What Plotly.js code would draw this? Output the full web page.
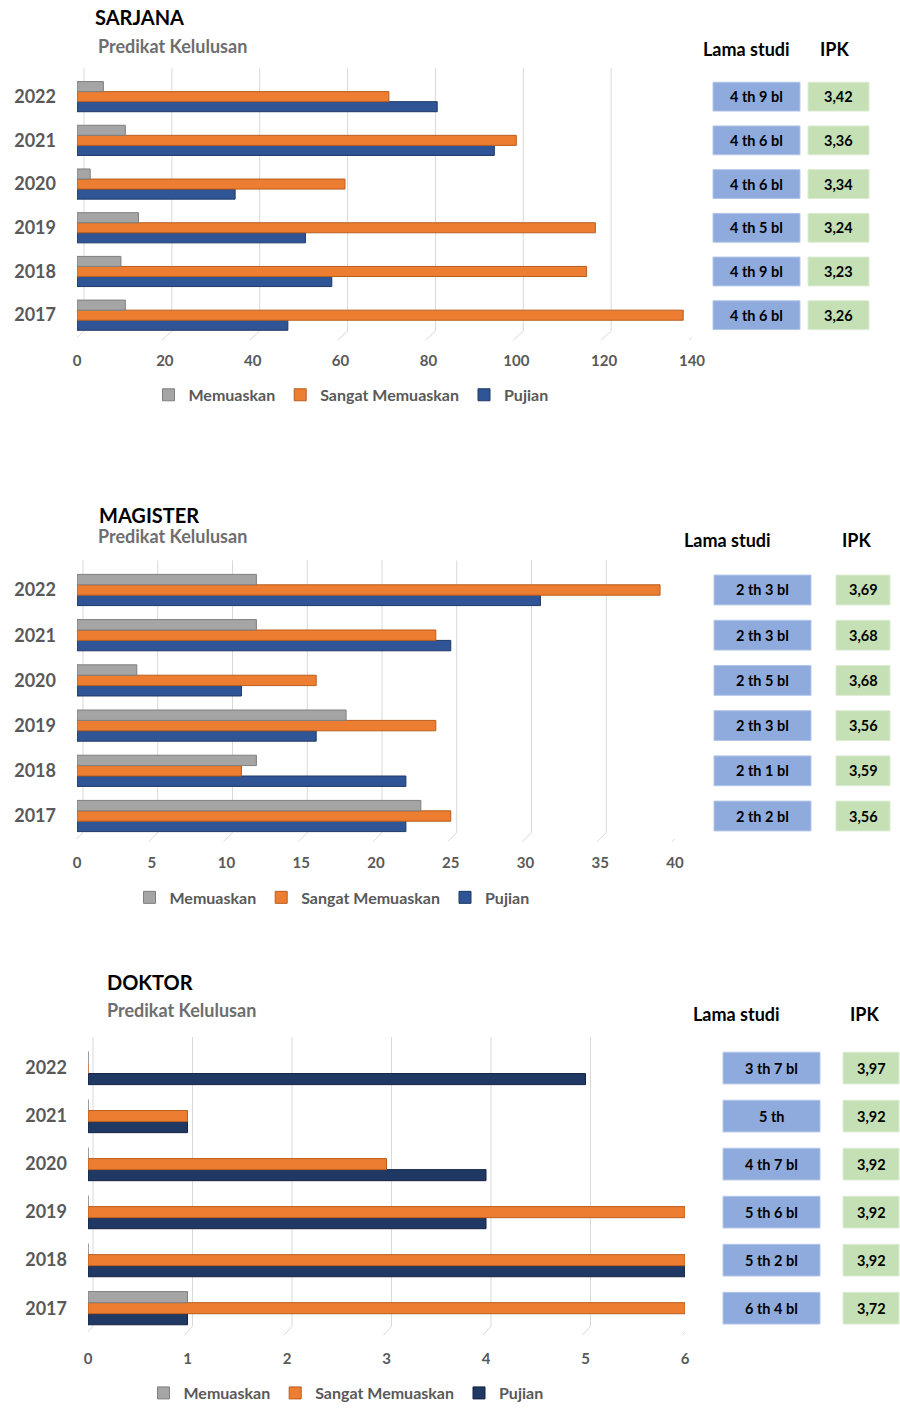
<!DOCTYPE html>
<html>
<head>
<meta charset="utf-8">
<script src="https://cdn.plot.ly/plotly-3.0.1.min.js"></script>
<style>
  html, body { margin: 0; padding: 0; background: #ffffff; }
  #chart { width: 900px; height: 1410px; }
</style>
</head>
<body>
<div id="chart"></div>
<script>
// ---------------- DATA ----------------
const years = ['2017', '2018', '2019', '2020', '2021', '2022'];
const seriesNames = ['Memuaskan', 'Sangat Memuaskan', 'Pujian'];
const tableHeaders = ['Lama studi', 'IPK'];
const chartTitles = ['SARJANA', 'MAGISTER', 'DOKTOR'];
const subTitle = 'Predikat Kelulusan';

const sarjanaMemuaskan = [11, 10, 14, 3, 11, 6];
const sarjanaSangat    = [138, 116, 118, 61, 100, 71];
const sarjanaPujian    = [48, 58, 52, 36, 95, 82];
const sarjanaLama      = ['4 th 6 bl', '4 th 9 bl', '4 th 5 bl', '4 th 6 bl', '4 th 6 bl', '4 th 9 bl'];
const sarjanaIPK       = ['3,26', '3,23', '3,24', '3,34', '3,36', '3,42'];

const magisterMemuaskan = [23, 12, 18, 4, 12, 12];
const magisterSangat    = [25, 11, 24, 16, 24, 39];
const magisterPujian    = [22, 22, 16, 11, 25, 31];
const magisterLama      = ['2 th 2 bl', '2 th 1 bl', '2 th 3 bl', '2 th 5 bl', '2 th 3 bl', '2 th 3 bl'];
const magisterIPK       = ['3,56', '3,59', '3,56', '3,68', '3,68', '3,69'];

const doktorMemuaskan = [1, 0, 0, 0, 0, 0];
const doktorSangat    = [6, 6, 6, 3, 1, 0];
const doktorPujian    = [1, 6, 4, 4, 1, 5];
const doktorLama      = ['6 th 4 bl', '5 th 2 bl', '5 th 6 bl', '4 th 7 bl', '5 th', '3 th 7 bl'];
const doktorIPK       = ['3,72', '3,92', '3,92', '3,92', '3,92', '3,97'];

// ---------------- STYLE / LAYOUT ----------------
const W = 900, H = 1410;
const px = x => x / W;
const py = y => 1 - y / H;
const FONT = 'Lato, "Open Sans", "DejaVu Sans", sans-serif';
const GRAY_TXT = '#595959';
const b = t => '<b>' + t + '</b>';

const charts = [
  { title: chartTitles[0], values: [sarjanaMemuaskan, sarjanaSangat, sarjanaPujian], lama: sarjanaLama, ipk: sarjanaIPK,
    titleX: 93, titleY: 17, subX: 96, subY: 46, x0: 77, x1: 692, yTop: 75, yBot: 338, max: 140, dtick: 20, shift: 7,
    xStand: 13, legendX: 351, legendY: 396, pujian: '#2F5597', pujianLine: '#1F3864',
    lamaBox: [713, 800], ipkBox: [808, 869], headLamaX: 746, headIpkX: 834, headY: 49 },
  { title: chartTitles[1], values: [magisterMemuaskan, magisterSangat, magisterPujian], lama: magisterLama, ipk: magisterIPK,
    titleX: 97, titleY: 516, subX: 96, subY: 538, x0: 77, x1: 675, yTop: 569, yBot: 841, max: 40, dtick: 5, shift: 6,
    xStand: 13, legendX: 332, legendY: 900, pujian: '#2F5597', pujianLine: '#1F3864',
    lamaBox: [714, 811], ipkBox: [836, 890], headLamaX: 727, headIpkX: 856, headY: 542 },
  { title: chartTitles[2], values: [doktorMemuaskan, doktorSangat, doktorPujian], lama: doktorLama, ipk: doktorIPK,
    titleX: 105, titleY: 985, subX: 105, subY: 1013, x0: 88, x1: 685, yTop: 1047, yBot: 1336, max: 6, dtick: 1, shift: 5,
    xStand: 16, legendX: 346, legendY: 1397, pujian: '#203864', pujianLine: '#14223F',
    lamaBox: [723, 820], ipkBox: [843, 899], headLamaX: 736, headIpkX: 864, headY: 1017 }
];

const traces = [];
const shapes = [];
const annotations = [];
const layout = {
  width: W, height: H,
  margin: { l: 0, r: 0, t: 0, b: 0 },
  paper_bgcolor: '#ffffff', plot_bgcolor: 'rgba(0,0,0,0)',
  barmode: 'group', bargap: 0.31, bargroupgap: 0,
  font: { family: FONT, color: GRAY_TXT },
  showlegend: true,
  shapes: shapes, annotations: annotations
};

charts.forEach((c, k) => {
  const n = k === 0 ? '' : String(k + 1);
  const xa = 'x' + n, ya = 'y' + n;
  const legendId = 'legend' + n;
  const colors = ['#A5A5A5', '#ED7D31', c.pujian];
  const lines  = ['#7F7F7F', '#B85E1F', c.pujianLine];

  // Add in reverse so that Memuaskan sits on top of each group
  [2, 1, 0].forEach(s => {
    traces.push({
      type: 'bar', orientation: 'h',
      name: b(seriesNames[s]),
      x: c.values[s], y: years,
      xaxis: xa, yaxis: ya,
      legend: legendId, legendrank: s + 1,
      marker: { color: colors[s], line: { color: lines[s], width: 1 } },
      hoverinfo: 'x+name'
    });
  });

  const xticks = [];
  for (let v = 0; v <= c.max + 1e-9; v += c.dtick) xticks.push(v);

  layout['xaxis' + n] = {
    domain: [px(c.x0), px(c.x1)], anchor: ya,
    range: [0, c.max], tickmode: 'array', tickvals: xticks, ticktext: xticks.map(v => b(v)),
    showgrid: false, zeroline: false, showline: false, ticks: '',
    ticklabelstandoff: c.xStand,
    tickfont: { family: FONT, size: 15, color: GRAY_TXT },
    fixedrange: true
  };
  layout['yaxis' + n] = {
    domain: [py(c.yBot), py(c.yTop)], anchor: xa,
    type: 'category', categoryorder: 'array', categoryarray: years,
    tickmode: 'array', tickvals: years, ticktext: years.map(b),
    range: [-0.5, years.length - 0.5],
    showgrid: false, zeroline: false, showline: false, ticks: '',
    ticklabelstandoff: 20,
    tickfont: { family: FONT, size: 18, color: GRAY_TXT },
    fixedrange: true
  };
  layout[legendId] = {
    orientation: 'h', xref: 'paper', yref: 'paper',
    x: px(c.legendX), y: py(c.legendY), xanchor: 'center', yanchor: 'middle',
    font: { family: FONT, size: 16, color: GRAY_TXT },
    bgcolor: 'rgba(0,0,0,0)', itemclick: false, itemdoubleclick: false
  };

  // back-wall gridlines (3D look) tied to tick values on the axis
  xticks.forEach(v => {
    shapes.push({ type: 'line', layer: 'below', xref: xa, xsizemode: 'pixel', xanchor: v,
      x0: c.shift, x1: c.shift, yref: 'paper', y0: py(c.yBot - 6), y1: py(c.yTop - 7),
      line: { color: '#D9D9D9', width: 1 } });
    shapes.push({ type: 'line', layer: 'below', xref: xa, xsizemode: 'pixel', xanchor: v,
      x0: c.shift, x1: -3, yref: 'paper', y0: py(c.yBot - 6), y1: py(c.yBot + 3),
      line: { color: '#D9D9D9', width: 1 } });
  });

  // titles
  annotations.push({ xref: 'paper', yref: 'paper', x: px(c.titleX), y: py(c.titleY),
    xanchor: 'left', yanchor: 'middle', showarrow: false, text: b(c.title),
    font: { family: FONT, size: 20, color: '#000000' } });
  annotations.push({ xref: 'paper', yref: 'paper', x: px(c.subX), y: py(c.subY),
    xanchor: 'left', yanchor: 'middle', showarrow: false, text: b(subTitle),
    font: { family: FONT, size: 18, color: '#6E6E6E' } });

  // table headers
  annotations.push({ xref: 'paper', yref: 'paper', x: px(c.headLamaX), y: py(c.headY),
    xanchor: 'center', yanchor: 'middle', showarrow: false, text: b(tableHeaders[0]),
    font: { family: FONT, size: 18, color: '#000000' } });
  annotations.push({ xref: 'paper', yref: 'paper', x: px(c.headIpkX), y: py(c.headY),
    xanchor: 'center', yanchor: 'middle', showarrow: false, text: b(tableHeaders[1]),
    font: { family: FONT, size: 18, color: '#000000' } });

  // table boxes aligned to each year's category on the y axis
  years.forEach((yr, i) => {
    shapes.push({ type: 'rect', xref: 'paper', yref: ya,
      x0: px(c.lamaBox[0]), x1: px(c.lamaBox[1]), y0: i - 0.33, y1: i + 0.33,
      fillcolor: '#8FAADC', line: { color: '#B4C7E7', width: 1 } });
    shapes.push({ type: 'rect', xref: 'paper', yref: ya,
      x0: px(c.ipkBox[0]), x1: px(c.ipkBox[1]), y0: i - 0.33, y1: i + 0.33,
      fillcolor: '#C5E0B4', line: { color: '#DDEBD3', width: 1 } });
    annotations.push({ xref: 'paper', yref: ya, x: px((c.lamaBox[0] + c.lamaBox[1]) / 2), y: i,
      xanchor: 'center', yanchor: 'middle', showarrow: false, text: b(c.lama[i]),
      font: { family: FONT, size: 14.5, color: '#000000' } });
    annotations.push({ xref: 'paper', yref: ya, x: px((c.ipkBox[0] + c.ipkBox[1]) / 2), y: i,
      xanchor: 'center', yanchor: 'middle', showarrow: false, text: b(c.ipk[i]),
      font: { family: FONT, size: 14.5, color: '#000000' } });
  });
});

Plotly.newPlot('chart', traces, layout, { displayModeBar: false, staticPlot: true });
</script>
</body>
</html>
